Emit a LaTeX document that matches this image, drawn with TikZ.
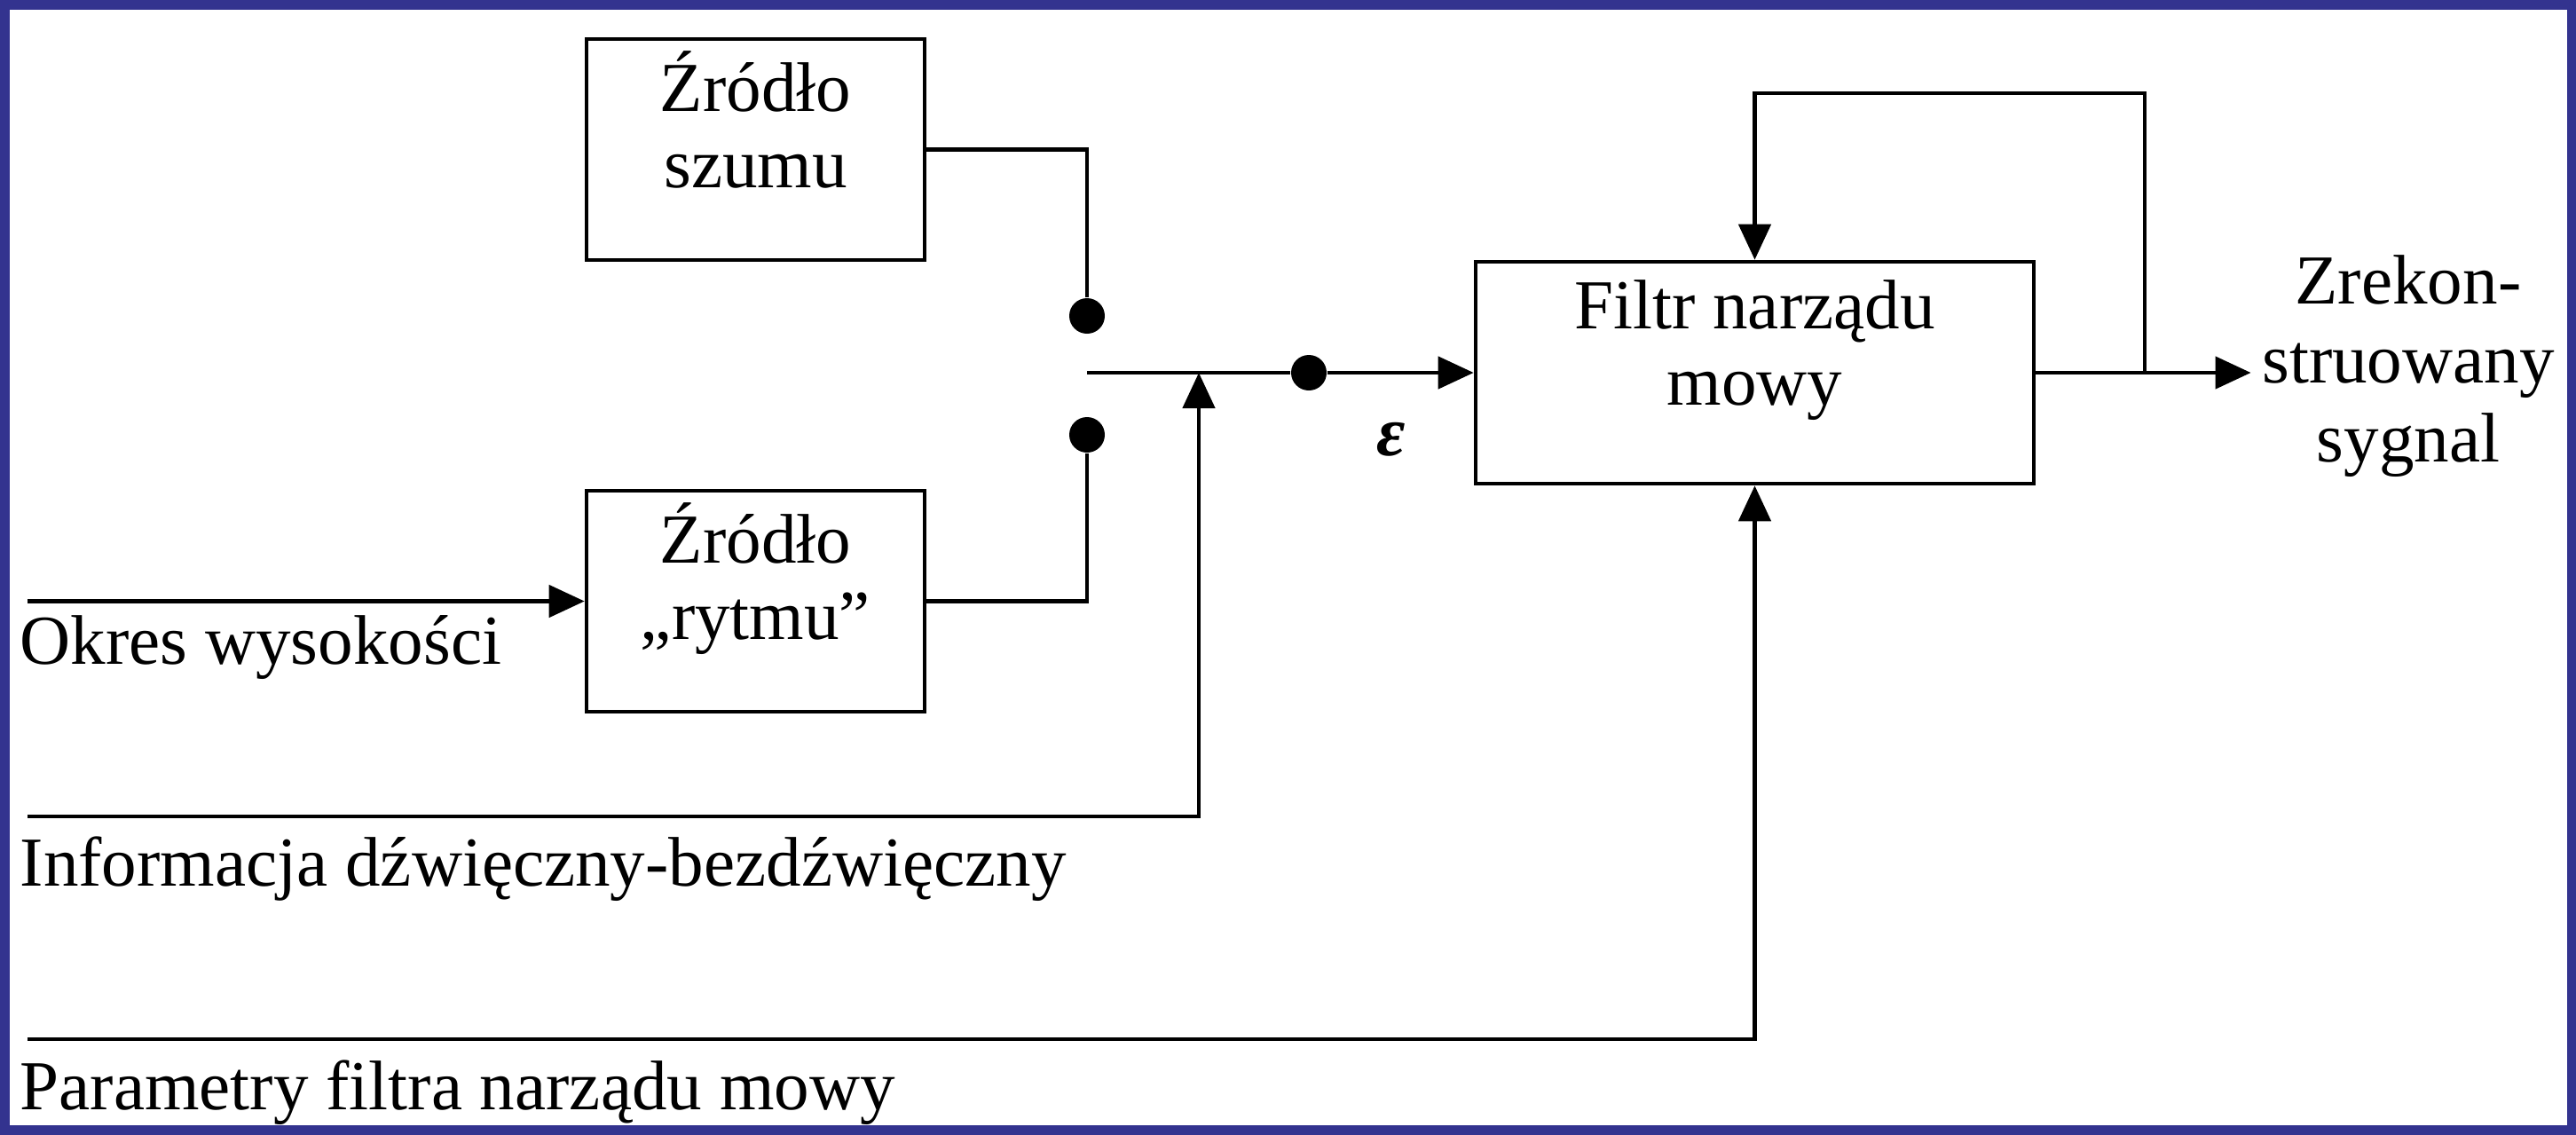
\documentclass[tikz,border=0pt]{standalone}
\usepackage{fontspec}
\setmainfont{Liberation Serif}
\usetikzlibrary{arrows.meta}
\definecolor{ramka}{rgb}{0.2,0.2,0.56}
\begin{document}
\begin{tikzpicture}[y=-1cm,x=1cm,font=\fontsize{22.5}{24.7}\selectfont]
        \tikzset{
            block/.style={draw=black,line width=1.3pt,minimum width=3.81cm,minimum height=2.49cm,align=center,
                execute at begin node={\rule{0pt}{0.75cm}},
                execute at end node={\rule[-0.68cm]{0pt}{0.68cm}}},
            contact/.style={circle,fill=black,inner sep=0pt,minimum size=0.4cm},
            sig/.style={line width=1.3pt},
            >={Triangle[length=0.4cm,width=0.36cm]}
        }
        \useasboundingbox (0,0) rectangle (29.03,12.78);
        \draw[draw=ramka,line width=0.11cm] (0.05,0.05) rectangle (28.98,12.73);

        \node[block] (szum) at (8.515,1.685) {Źródło\\szumu};
        \node[block] (rytm) at (8.515,6.775) {Źródło\\„rytmu”};
        \node[block,minimum width=6.29cm,minimum height=2.5cm] (filtr) at (19.775,4.2) {Filtr narządu\\mowy};

        \node[contact] (k1) at (12.25,3.56) {};
        \node[contact] (k2) at (12.25,4.90) {};
        \node[contact] (k3) at (14.75,4.20) {};
        \coordinate (w) at (12.25,4.20);
        \coordinate (v) at (13.51,4.20);
        \coordinate (odg) at (24.17,4.20);

        \coordinate (pin) at (0.31,6.775);
        \coordinate (vin) at (0.31,9.20);
        \coordinate (fin) at (0.31,11.71);

        \node[anchor=base west,inner sep=0pt] (okres) at (0.22,7.48) {Okres wysokości};
        \node[anchor=base west,inner sep=0pt] (info) at (0.22,9.98) {Informacja dźwięczny-bezdźwięczny};
        \node[anchor=base west,inner sep=0pt] (param) at (0.22,12.50) {Parametry filtra narządu mowy};
        \node (eps) at (15.68,4.95) {\bfseries\itshape ε};
        \node[align=center,inner sep=0.12cm,font=\fontsize{22.5}{25.3}\selectfont] (sygnal) at (27.14,4.13) {Zrekon-\\struowany\\sygnal};

        \draw[sig] (szum.east) -| (k1);
        \draw[sig] (rytm.east) -| (k2);
        \draw[sig] (w) -- (k3);
        \draw[sig,->] (k3) -- (filtr);
        \draw[sig,->] (pin) -- (rytm);
        \draw[sig,->] (vin) -| (v);
        \draw[sig,->] (fin) -| (filtr.south);
        \draw[sig,->] (odg) -- ++(0,-3.15) -| (filtr.north);
        \draw[sig,->] (filtr.east) -- (filtr.east -| sygnal.west);
    \end{tikzpicture}
\end{document}
